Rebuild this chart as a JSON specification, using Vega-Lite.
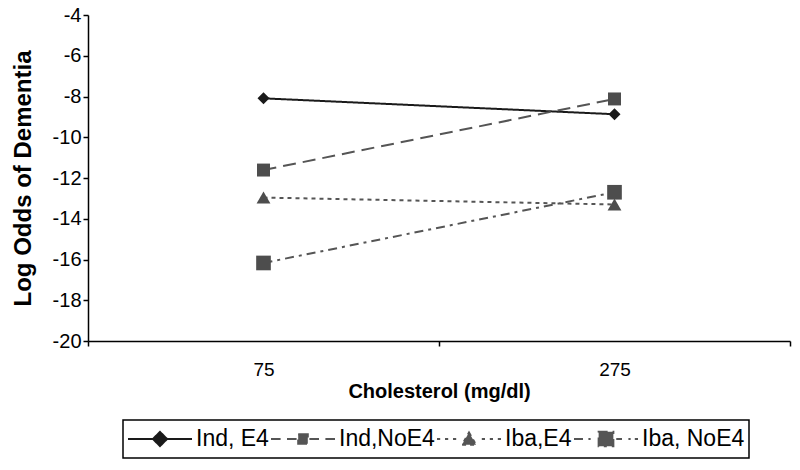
{
  "$schema": "https://vega.github.io/schema/vega-lite/v6.json",
  "width": 702,
  "height": 326,
  "autosize": "none",
  "padding": {"left": 88, "top": 15, "right": 10, "bottom": 129},
  "background": "white",
  "config": {
    "font": "Liberation Sans",
    "view": {"stroke": null},
    "axis": {"domainColor": "black", "tickColor": "black", "labelColor": "black", "titleColor": "black", "grid": false, "domainWidth": 1.5, "tickWidth": 1.5}
  },
  "data": {
    "values": [
      {"chol": 75, "series": "Ind, E4", "logodds": -8.09},
      {"chol": 275, "series": "Ind, E4", "logodds": -8.87},
      {"chol": 75, "series": "Ind,NoE4", "logodds": -11.61},
      {"chol": 275, "series": "Ind,NoE4", "logodds": -8.12},
      {"chol": 75, "series": "Iba,E4", "logodds": -12.96},
      {"chol": 275, "series": "Iba,E4", "logodds": -13.3},
      {"chol": 75, "series": "Iba, NoE4", "logodds": -16.17},
      {"chol": 275, "series": "Iba, NoE4", "logodds": -12.7}
    ]
  },
  "encoding": {
    "x": {
      "field": "chol",
      "type": "quantitative",
      "scale": {"domain": [-25, 375], "nice": false, "zero": false},
      "axis": {
        "values": [-25, 75, 175, 275, 375],
        "labelExpr": "datum.value == 75 || datum.value == 275 ? datum.label : ''",
        "tickOpacity": {"condition": {"test": "datum.value == 75 || datum.value == 275", "value": 0}, "value": 1},
        "tickSize": 5,
        "labelPadding": 14,
        "labelFontSize": 19,
        "labelFlush": false,
        "labelOverlap": false,
        "title": "Cholesterol (mg/dl)",
        "titleFontSize": 20,
        "titleFontWeight": "bold",
        "titlePadding": 2
      }
    },
    "y": {
      "field": "logodds",
      "type": "quantitative",
      "scale": {"domain": [-20, -4], "nice": false, "zero": false},
      "axis": {
        "values": [-20, -18, -16, -14, -12, -10, -8, -6, -4],
        "labelExpr": "toString(datum.value)",
        "tickSize": 5,
        "labelPadding": 2,
        "labelFontSize": 20,
        "title": "Log Odds of Dementia",
        "titleFontSize": 24,
        "titleFontWeight": "bold",
        "titlePadding": 17
      }
    }
  },
  "layer": [
    {
      "mark": {"type": "line", "strokeWidth": 2},
      "encoding": {
        "stroke": {
          "field": "series",
          "type": "nominal",
          "scale": {"domain": ["Iba, NoE4", "Iba,E4", "Ind,NoE4", "Ind, E4"], "range": ["#555555", "#555555", "#555555", "#1a1a1a"]},
          "legend": null
        },
        "strokeDash": {
          "field": "series",
          "type": "nominal",
          "scale": {"domain": ["Ind, E4", "Ind,NoE4", "Iba,E4", "Iba, NoE4"], "range": [[1, 0], [13, 7], [4, 4], [9, 5, 3, 5]]},
          "legend": {
            "orient": "none",
            "legendX": 35,
            "legendY": 405,
            "direction": "horizontal",
            "columns": 4,
            "title": null,
            "strokeColor": "black",
            "padding": 4,
            "symbolSize": 4096,
            "symbolStrokeWidth": 2,
            "clipHeight": 30,
            "labelFont": "Liberation Sans",
            "labelFontSize": 23,
            "labelColor": "black",
            "labelOffset": 3,
            "columnPadding": 1,
            "labelLimit": 300,
            "encode": {
              "legend": {"update": {"strokeWidth": {"value": 1.5}}},
              "symbols": {
                "update": {
                  "shape": {"signal": "datum.value == 'Ind, E4' ? 'M-1,0H1M0,-0.22L0.22,0L0,0.22L-0.22,0Z' : datum.value == 'Ind,NoE4' ? 'M-1,0H-0.7M-0.5,0H-0.2M0.2,0H0.5M0.7,0H1M-0.15,-0.15H0.15V0.15H-0.15Z' : datum.value == 'Iba,E4' ? 'M-1,0H-0.9M-0.75,0H-0.65M-0.5,0H-0.4M0.4,0H0.5M0.65,0H0.75M0.9,0H1M0,-0.2L0.22,0.18H-0.22Z' : 'M-1,0H-0.7M-0.55,0H-0.48M0.32,0H0.5M0.7,0H0.77M0.9,0H1M-0.23,-0.23H0.23V0.23H-0.23Z'"},
                  "fill": {"signal": "datum.value == 'Ind, E4' ? '#1a1a1a' : '#555555'"},
                  "stroke": {"signal": "datum.value == 'Ind, E4' ? '#1a1a1a' : '#555555'"},
                  "strokeDash": {"value": [1, 0]},
                  "opacity": {"value": 1}
                }
              }
            }
          }
        }
      }
    },
    {
      "mark": {"type": "point", "filled": true, "opacity": 1},
      "encoding": {
        "shape": {
          "field": "series",
          "type": "nominal",
          "scale": {"domain": ["Iba, NoE4", "Iba,E4", "Ind,NoE4", "Ind, E4"], "range": ["square", "triangle-up", "square", "diamond"]},
          "legend": null
        },
        "size": {
          "field": "series",
          "type": "nominal",
          "scale": {"domain": ["Iba, NoE4", "Iba,E4", "Ind,NoE4", "Ind, E4"], "range": [215, 144, 100, 130]},
          "legend": null
        },
        "fill": {
          "field": "series",
          "type": "nominal",
          "scale": {"domain": ["Iba, NoE4", "Iba,E4", "Ind,NoE4", "Ind, E4"], "range": ["#4d4d4d", "#4d4d4d", "#4d4d4d", "#1a1a1a"]},
          "legend": null
        }
      }
    }
  ]
}
